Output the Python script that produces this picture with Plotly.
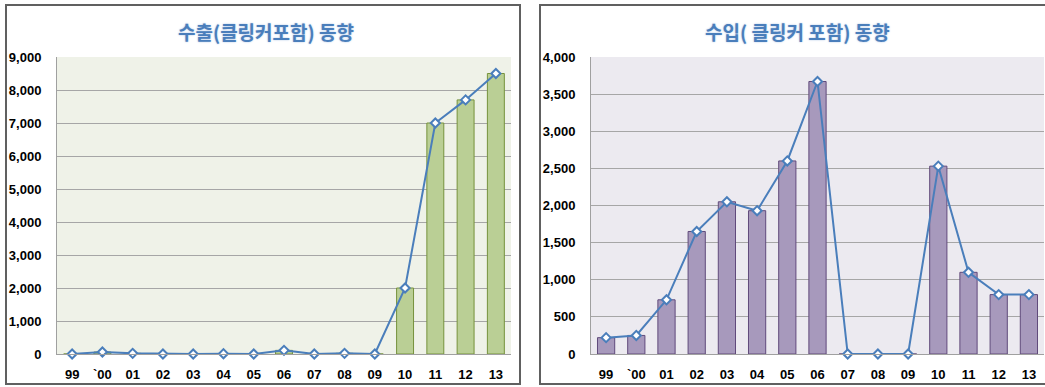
import plotly.graph_objects as go

W, H = 1045, 387

categories = ["99", "`00", "01", "02", "03", "04", "05", "06", "07", "08", "09", "10", "11", "12", "13"]
export_vals = [0, 60, 20, 0, 0, 10, 0, 110, 0, 20, 0, 2000, 7000, 7700, 8500]
import_vals = [220, 250, 730, 1650, 2050, 1930, 2600, 3670, 0, 0, 0, 2530, 1100, 800, 800]
export_title = "수출(클링커포함) 동향"
import_title = "수입( 클링커 포함) 동향"
export_ticks = [0, 1000, 2000, 3000, 4000, 5000, 6000, 7000, 8000, 9000]
import_ticks = [0, 500, 1000, 1500, 2000, 2500, 3000, 3500, 4000]


def px(x):
    return x / W


def py(y):
    return 1 - y / H


FONT = "Liberation Sans, DejaVu Sans, sans-serif"
TITLE_FONT = "Noto Sans CJK KR, sans-serif"
LINE_COLOR = "#4A7EBB"

fig = go.Figure()

# Export chart
fig.add_trace(go.Bar(x=categories, y=export_vals, xaxis="x", yaxis="y",
                     marker=dict(color="#BACF95", line=dict(color="#76923C", width=1)),
                     width=0.56, showlegend=False))
fig.add_trace(go.Scatter(x=categories, y=export_vals, xaxis="x", yaxis="y", mode="lines+markers",
                         line=dict(color=LINE_COLOR, width=2),
                         marker=dict(symbol="diamond", size=7, color="white",
                                     line=dict(color=LINE_COLOR, width=2)),
                         showlegend=False, cliponaxis=False))
# Import chart
fig.add_trace(go.Bar(x=categories, y=import_vals, xaxis="x2", yaxis="y2",
                     marker=dict(color="#A799BC", line=dict(color="#604A7B", width=1)),
                     width=0.57, showlegend=False))
fig.add_trace(go.Scatter(x=categories, y=import_vals, xaxis="x2", yaxis="y2", mode="lines+markers",
                         line=dict(color=LINE_COLOR, width=2),
                         marker=dict(symbol="diamond", size=7, color="white",
                                     line=dict(color=LINE_COLOR, width=2)),
                         showlegend=False, cliponaxis=False))

ydom = [py(354), py(57)]
xrange = [-0.5, len(categories) - 0.5]
xaxis_common = dict(showgrid=False, showline=True, linecolor="#A0A0A0", linewidth=1,
                    ticks="", tickfont=dict(family=FONT, size=13, color="black", weight="bold"),
                    fixedrange=True, ticklabelstandoff=8, automargin=False, range=xrange)
yaxis_common = dict(showgrid=True, gridcolor="#A6A6A6", gridwidth=1, showline=True,
                    linecolor="#A0A0A0", linewidth=1, ticks="", zeroline=False,
                    tickfont=dict(family=FONT, size=13, color="black", weight="bold"),
                    tickformat=",d", fixedrange=True, ticklabelstandoff=12, automargin=False)

fig.update_layout(
    width=W, height=H,
    autosize=False,
    margin=dict(l=0, r=0, t=0, b=0, pad=0),
    paper_bgcolor="white",
    plot_bgcolor="rgba(0,0,0,0)",
    xaxis=dict(domain=[px(57), px(511)], anchor="y", categoryorder="array",
               categoryarray=categories, **xaxis_common),
    yaxis=dict(domain=ydom, anchor="x", range=[0, 9000], tickvals=export_ticks, **yaxis_common),
    xaxis2=dict(domain=[px(591), px(1044)], anchor="y2", categoryorder="array",
                categoryarray=categories, **xaxis_common),
    yaxis2=dict(domain=ydom, anchor="x2", range=[0, 4000], tickvals=import_ticks, **yaxis_common),
)

shapes = [
    # plot backgrounds
    dict(type="rect", xref="paper", yref="paper", x0=px(57), x1=px(511), y0=py(354), y1=py(57),
         fillcolor="#EFF2E8", line=dict(width=0), layer="below"),
    dict(type="rect", xref="paper", yref="paper", x0=px(591), x1=px(1044), y0=py(354), y1=py(57),
         fillcolor="#ECEAF0", line=dict(width=0), layer="below"),
    # chart frames
    dict(type="rect", xref="paper", yref="paper", x0=px(6), x1=px(520), y0=py(384), y1=py(5),
         fillcolor="rgba(0,0,0,0)", line=dict(color="#606060", width=2), layer="below"),
    dict(type="rect", xref="paper", yref="paper", x0=px(540), x1=px(1060), y0=py(384), y1=py(5),
         fillcolor="rgba(0,0,0,0)", line=dict(color="#606060", width=2), layer="below"),
]
fig.update_layout(shapes=shapes)

title_font = dict(family=TITLE_FONT, size=19, color="#4A7EBB", weight="bold",
                  shadow="0px 0px 2px #A9C2E4")
fig.add_annotation(text=export_title, xref="paper", yref="paper", x=px(266), y=py(32),
                   showarrow=False, font=title_font, xanchor="center", yanchor="middle")
fig.add_annotation(text=import_title, xref="paper", yref="paper", x=px(797), y=py(32),
                   showarrow=False, font=title_font, xanchor="center", yanchor="middle")

fig.write_html("out.html", config={"responsive": False, "displayModeBar": False},
               post_script="document.body.style.margin='0';document.body.style.overflow='hidden';")
